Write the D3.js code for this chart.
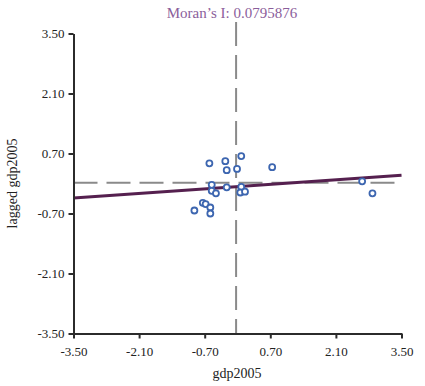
<!DOCTYPE html>
<html>
<head>
<meta charset="utf-8">
<script src="https://cdn.jsdelivr.net/npm/d3@7"></script>
<style>
  body { margin: 0; background: #fff; }
  text { font-family: "Liberation Serif", "DejaVu Serif", serif; }
</style>
</head>
<body>
<svg width="425" height="386"></svg>
<script>
// values
let gdp = [-0.60, -0.26, -0.23, 0.08, -0.01, 0.74, -0.55, -0.55, -0.46, -0.23,
           0.08, 0.06, 0.16, -0.74, -0.68, -0.92, -0.58, -0.58, 2.66, 2.88];
let laggedGdp = [0.47, 0.52, 0.31, 0.64, 0.34, 0.38, -0.03, -0.17, -0.23, -0.09,
                 -0.08, -0.21, -0.19, -0.45, -0.48, -0.63, -0.56, -0.70, 0.05, -0.23];
let fitX = [-3.5, 3.5];
let fitY = [-0.34, 0.19];
let tickValues = [-3.5, -2.1, -0.7, 0.7, 2.1, 3.5];
let meanX = -0.03;
let meanY = 0.02;
let title = "Moran\u2019s I: 0.0795876";

let svg = d3.select("svg");
let x = d3.scaleLinear().domain([-3.5, 3.5]).range([73.5, 401.5]);
let y = d3.scaleLinear().domain([-3.5, 3.5]).range([333.5, 33.5]);

// dashed mean lines
svg.append("line")
    .attr("x1", x(meanX)).attr("x2", x(meanX))
    .attr("y1", 22).attr("y2", y(-3.5))
    .attr("stroke", "#8a8a8a").attr("stroke-width", 2)
    .attr("stroke-dasharray", "24,9");
svg.append("line")
    .attr("x1", x(-3.5)).attr("x2", x(3.5))
    .attr("y1", y(meanY)).attr("y2", y(meanY))
    .attr("stroke", "#8a8a8a").attr("stroke-width", 2)
    .attr("stroke-dasharray", "24,9");

// regression line
svg.append("path")
    .datum(d3.zip(fitX, fitY))
    .attr("fill", "none")
    .attr("stroke", "#55204f")
    .attr("stroke-width", 3)
    .attr("d", d3.line().x(d => x(d[0])).y(d => y(d[1])));

// points
svg.append("g")
    .selectAll("circle")
    .data(d3.zip(gdp, laggedGdp))
    .enter()
    .append("circle")
    .attr("cx", d => x(d[0]))
    .attr("cy", d => y(d[1]))
    .attr("r", 3)
    .attr("fill", "#fff")
    .attr("stroke", "#3d66b0")
    .attr("stroke-width", 1.8);

// axes
let fmt = v => d3.format(".2f")(v).replace("\u2212", "-");
let xAxis = svg.append("g")
    .attr("transform", "translate(0," + y(-3.5) + ")")
    .call(d3.axisBottom(x).tickValues(tickValues).tickFormat(fmt).tickSize(5).tickSizeOuter(0));
let yAxis = svg.append("g")
    .attr("transform", "translate(" + x(-3.5) + ",0)")
    .call(d3.axisLeft(y).tickValues(tickValues).tickFormat(fmt).tickSize(5).tickSizeOuter(0));

[xAxis, yAxis].forEach(function (g) {
    g.select(".domain").attr("stroke", "#2b2b2b").attr("stroke-width", 2);
    g.selectAll(".tick line").attr("stroke", "#2b2b2b").attr("stroke-width", 2);
    g.selectAll(".tick text")
        .attr("fill", "#222")
        .style("font-family", "'Liberation Serif', serif")
        .style("font-size", "13px");
});
xAxis.selectAll(".tick text").attr("dy", "1.1em");
yAxis.selectAll(".tick text").attr("x", -9);

// labels
svg.append("text")
    .attr("x", 232).attr("y", 18)
    .attr("text-anchor", "middle")
    .attr("fill", "#8b5e9b")
    .style("font-size", "15px")
    .text(title);
svg.append("text")
    .attr("x", 237).attr("y", 378)
    .attr("text-anchor", "middle")
    .attr("fill", "#222")
    .style("font-size", "14px")
    .text("gdp2005");
svg.append("text")
    .attr("transform", "translate(17," + y(0) + ") rotate(-90)")
    .attr("text-anchor", "middle")
    .attr("fill", "#222")
    .style("font-size", "14px")
    .text("lagged gdp2005");
</script>
</body>
</html>
